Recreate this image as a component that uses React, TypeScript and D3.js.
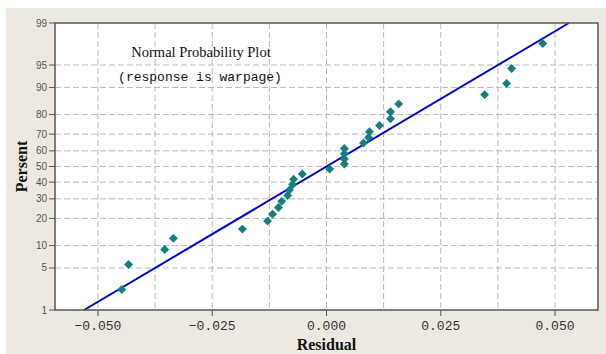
import * as d3 from "d3";
import { useEffect, useRef } from "react";

// residuals, sorted, and their plotted percent (median rank)
const residuals = [
  -0.0448, -0.0433, -0.0354, -0.0335, -0.0184, -0.0129, -0.0118, -0.0105, -0.0098, -0.0085,
  -0.0081, -0.0074, -0.0072, -0.0053, 0.0007, 0.0039, 0.0039, 0.0039, 0.0039, 0.0081,
  0.0092, 0.0094, 0.0116, 0.014, 0.014, 0.0158, 0.0346, 0.0394, 0.0405, 0.0473,
];
const percents = [
  2.3, 5.6, 8.9, 12.2, 15.5, 18.8, 22.0, 25.3, 28.6, 31.9,
  35.2, 38.5, 41.8, 45.1, 48.4, 51.6, 54.9, 58.2, 61.5, 64.8,
  68.1, 71.4, 74.7, 78.0, 81.3, 84.5, 87.8, 91.1, 94.4, 97.7,
];

const xTicks = [-0.05, -0.025, 0, 0.025, 0.05];
const xGrid = [-0.05, -0.0375, -0.025, -0.0125, 0, 0.0125, 0.025, 0.0375, 0.05];
const yTicks = [1, 5, 10, 20, 30, 40, 50, 60, 70, 80, 90, 95, 99];

// fitted normal line
const fitMean = 0;
const fitSigma = 0.0228;

// inverse standard normal cdf (Acklam)
function probit(p: number) {
  const a = [-39.69683028665376, 220.9460984245205, -275.9285104469687, 138.357751867269, -30.66479806614716, 2.506628277459239];
  const b = [-54.47609879822406, 161.5858368580409, -155.6989798598866, 66.80131188771972, -13.28068155288572];
  const c = [-0.007784894002430293, -0.3223964580411365, -2.400758277161838, -2.549732539343734, 4.374664141464968, 2.938163982698783];
  const d = [0.007784695709041462, 0.3224671290700398, 2.445134137142996, 3.754408661907416];
  const pl = 0.02425;
  if (p < pl) {
    const q = Math.sqrt(-2 * Math.log(p));
    return (((((c[0] * q + c[1]) * q + c[2]) * q + c[3]) * q + c[4]) * q + c[5]) / ((((d[0] * q + d[1]) * q + d[2]) * q + d[3]) * q + 1);
  }
  if (p > 1 - pl) {
    const q = Math.sqrt(-2 * Math.log(1 - p));
    return -(((((c[0] * q + c[1]) * q + c[2]) * q + c[3]) * q + c[4]) * q + c[5]) / ((((d[0] * q + d[1]) * q + d[2]) * q + d[3]) * q + 1);
  }
  const q = p - 0.5;
  const r = q * q;
  return ((((((a[0] * r + a[1]) * r + a[2]) * r + a[3]) * r + a[4]) * r + a[5]) * q) / (((((b[0] * r + b[1]) * r + b[2]) * r + b[3]) * r + b[4]) * r + 1);
}

export default function App() {
  const ref = useRef<SVGSVGElement | null>(null);

  useEffect(() => {
    const svg = d3.select(ref.current);
    svg.selectAll("*").remove();

    const W = 606;
    const H = 354;
    const margin = { top: 23, right: 8, bottom: 44, left: 55 };
    const left = margin.left;
    const right = W - margin.right;
    const top = margin.top;
    const bottom = H - margin.bottom;

    svg.attr("width", W).attr("height", H);

    // panel background
    svg.append("rect").attr("x", 6).attr("y", 8).attr("width", W - 6).attr("height", H - 8).attr("fill", "#ede9e0");
    svg.append("rect").attr("x", left).attr("y", top).attr("width", right - left).attr("height", bottom - top).attr("fill", "#fff");

    const x = d3.scaleLinear().domain([-0.0594, 0.0594]).range([left, right]);
    const zy = d3.scaleLinear().domain([probit(0.01), probit(0.99)]).range([bottom, top]);
    const y = (p: number) => zy(probit(p / 100));

    const grid = svg.append("g").attr("stroke", "#b8b8b8").attr("stroke-width", 1).attr("stroke-dasharray", "6,3");
    xGrid.forEach((v) => {
      grid.append("line").attr("x1", x(v)).attr("x2", x(v)).attr("y1", top).attr("y2", bottom);
    });
    yTicks.slice(1, -1).forEach((p) => {
      grid.append("line").attr("x1", left).attr("x2", right).attr("y1", y(p)).attr("y2", y(p));
    });

    // fitted line
    const fit = [1, 99].map((p) => ({ p, r: fitMean + fitSigma * probit(p / 100) }));
    svg
      .append("path")
      .datum(fit)
      .attr("fill", "none")
      .attr("stroke", "#0000c8")
      .attr("stroke-width", 2)
      .attr(
        "d",
        d3
          .line<{ p: number; r: number }>()
          .x((d) => x(d.r))
          .y((d) => y(d.p))
      );

    // points
    const diamond = d3.symbol().type(d3.symbolSquare).size(40);
    svg
      .append("g")
      .selectAll("path")
      .data(residuals)
      .join("path")
      .attr("d", diamond)
      .attr("fill", "#12807d")
      .attr("transform", (d, i) => `translate(${x(d)},${y(percents[i])}) rotate(45)`);

    // frame
    svg
      .append("rect")
      .attr("x", left)
      .attr("y", top)
      .attr("width", right - left)
      .attr("height", bottom - top)
      .attr("fill", "none")
      .attr("stroke", "#555")
      .attr("stroke-width", 1.5);

    // y axis ticks
    const yAx = svg.append("g");
    yTicks.forEach((p) => {
      yAx.append("line").attr("x1", left - 6).attr("x2", left).attr("y1", y(p)).attr("y2", y(p)).attr("stroke", "#555");
      yAx
        .append("text")
        .attr("x", left - 8)
        .attr("y", y(p) + 3.5)
        .attr("text-anchor", "end")
        .style("font-family", "Liberation Sans, Arial, sans-serif")
        .style("font-size", "10px")
        .attr("fill", "#555")
        .text(p);
    });

    // x axis ticks
    const xAx = svg.append("g");
    xTicks.forEach((v) => {
      xAx.append("line").attr("x1", x(v)).attr("x2", x(v)).attr("y1", bottom).attr("y2", bottom + 6).attr("stroke", "#555");
      xAx
        .append("text")
        .attr("x", x(v))
        .attr("y", bottom + 20)
        .attr("text-anchor", "middle")
        .style("font-family", "Liberation Mono, monospace")
        .style("font-size", "13px")
        .attr("fill", "#333")
        .text(d3.format(".3f")(v));
    });

    // titles
    svg
      .append("text")
      .attr("x", 201)
      .attr("y", 57)
      .attr("text-anchor", "middle")
      .style("font-family", "Liberation Serif, serif")
      .style("font-size", "14.5px")
      .attr("fill", "#111")
      .text("Normal Probability Plot");
    svg
      .append("text")
      .attr("x", 200)
      .attr("y", 81)
      .attr("text-anchor", "middle")
      .style("font-family", "Liberation Mono, monospace")
      .style("font-size", "13px")
      .attr("fill", "#111")
      .text("(response is warpage)");

    svg
      .append("text")
      .attr("x", (left + right) / 2)
      .attr("y", 350)
      .attr("text-anchor", "middle")
      .style("font-family", "Liberation Serif, serif")
      .style("font-size", "16px")
      .style("font-weight", "bold")
      .attr("fill", "#111")
      .text("Residual");
    svg
      .append("text")
      .attr("transform", `translate(27,${(top + bottom) / 2}) rotate(-90)`)
      .attr("text-anchor", "middle")
      .style("font-family", "Liberation Serif, serif")
      .style("font-size", "16px")
      .style("font-weight", "bold")
      .attr("fill", "#111")
      .text("Persent");
  }, []);

  return <svg ref={ref} style={{ position: "absolute", left: 0, top: 0 }}></svg>;
}
